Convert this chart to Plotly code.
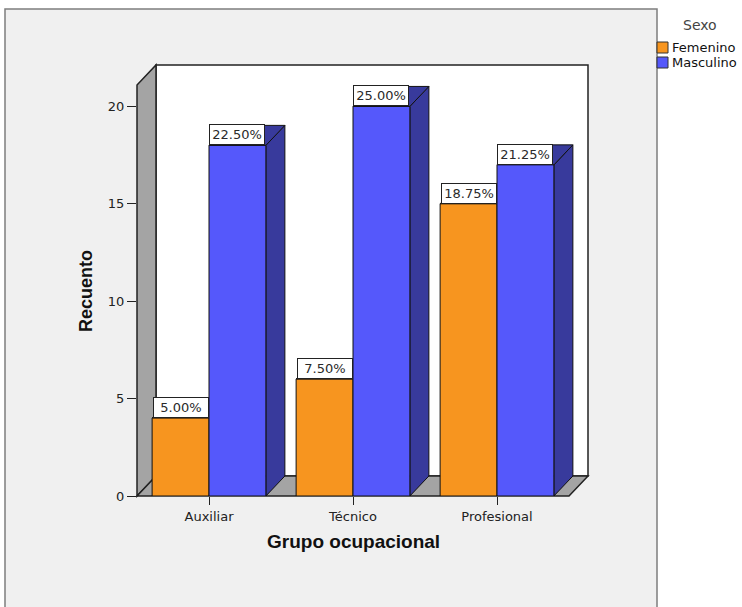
import plotly.graph_objects as go

# ---- data -------------------------------------------------------------
groups = ["Auxiliar", "Técnico", "Profesional"]
femenino = [4, 6, 15]
masculino = [18, 20, 17]
series_names = ["Femenino", "Masculino"]
y_ticks = [0, 5, 10, 15, 20]

total = sum(femenino) + sum(masculino)

# ---- geometry ---------------------------------------------------------
W, H = 742, 607
ML, MR, MT, MB = 137, 154, 65, 111
PW, PH = W - ML - MR, H - MT - MB

DEPTH_PX_X, DEPTH_PX_Y = 19, 20          # 3D depth offset in pixels
X_MIN, X_FRONT_MAX = -0.5, 2.5
Y_TOP = 21.1                             # top of the front plane
ppx = (PW - DEPTH_PX_X) / (X_FRONT_MAX - X_MIN)
ppy = (PH - DEPTH_PX_Y) / Y_TOP
DX = DEPTH_PX_X / ppx
DY = DEPTH_PX_Y / ppy
X_MAX = X_FRONT_MAX + DX
Y_MAX = Y_TOP + DY

BAR_W = 0.395

C_FEM = "#F7951F"
C_MAS = "#5558FB"
C_FEM_DARK = "#A5600F"
C_MAS_DARK = "#383A9C"
C_WALL = "#A4A4A4"
C_PANEL = "#F0F0F0"
FONT = "DejaVu Sans"


def xp(x):
    return (x - X_MIN) / (X_MAX - X_MIN)


def yp(y):
    return y / Y_MAX


def pxx(px):
    return (px - ML) / PW


def pxy(py):
    return (H - MB - py) / PH


xs = list(range(len(groups)))

fig = go.Figure()
fig.add_trace(go.Bar(
    x=xs, y=femenino, width=BAR_W, offset=-BAR_W, name=series_names[0],
    marker=dict(color=C_FEM, line=dict(color="#111", width=1)),
    showlegend=False, hoverinfo="skip"))
fig.add_trace(go.Bar(
    x=xs, y=masculino, width=BAR_W, offset=0, name=series_names[1],
    marker=dict(color=C_MAS, line=dict(color="#111", width=1)),
    showlegend=False, hoverinfo="skip"))

shapes = []

# outer panel
shapes.append(dict(type="rect", xref="paper", yref="paper", layer="below",
                   x0=pxx(5), x1=pxx(657), y0=pxy(620), y1=pxy(9),
                   fillcolor=C_PANEL, line=dict(color="#7d7d7d", width=1.5)))

# back wall
shapes.append(dict(type="rect", xref="paper", yref="paper", layer="below",
                   x0=xp(X_MIN + DX), x1=xp(X_MAX), y0=yp(DY), y1=yp(Y_MAX),
                   fillcolor="white", line=dict(color="#222", width=1.5)))


def ppath(pts):
    return "M " + " L ".join(f"{a},{b}" for a, b in pts) + " Z"


# left wall
shapes.append(dict(type="path", xref="paper", yref="paper", layer="below",
                   path=ppath([(xp(X_MIN), yp(0)), (xp(X_MIN), yp(Y_TOP)),
                               (xp(X_MIN + DX), yp(Y_MAX)), (xp(X_MIN + DX), yp(DY))]),
                   fillcolor=C_WALL, line=dict(color="#222", width=1.5)))
# floor
shapes.append(dict(type="path", xref="paper", yref="paper", layer="below",
                   path=ppath([(xp(X_MIN), yp(0)), (xp(X_MIN + DX), yp(DY)),
                               (xp(X_MAX), yp(DY)), (xp(X_FRONT_MAX), yp(0))]),
                   fillcolor=C_WALL, line=dict(color="#222", width=1.5)))

# side and top faces of each bar
for vals, off, dark in ((femenino, -BAR_W, C_FEM_DARK), (masculino, 0, C_MAS_DARK)):
    for x, h in zip(xs, vals):
        x0 = x + off
        x1 = x0 + BAR_W
        shapes.append(dict(type="path", xref="x", yref="y", layer="below",
                           path=ppath([(x1, 0), (x1 + DX, DY), (x1 + DX, h + DY), (x1, h)]),
                           fillcolor=dark, line=dict(color="#111", width=1)))
        shapes.append(dict(type="path", xref="x", yref="y", layer="below",
                           path=ppath([(x0, h), (x0 + DX, h + DY), (x1 + DX, h + DY), (x1, h)]),
                           fillcolor=dark, line=dict(color="#111", width=1)))

annotations = []
# percentage labels on top of the bars
for vals, off in ((femenino, -BAR_W / 2), (masculino, BAR_W / 2)):
    for x, h in zip(xs, vals):
        annotations.append(dict(
            x=x + off, y=h, xref="x", yref="y", xanchor="center", yanchor="bottom",
            text=f"{h / total * 100:.2f}%", showarrow=False,
            bgcolor="white", bordercolor="#222", borderwidth=1, borderpad=0,
            width=54, height=19, font=dict(family=FONT, size=13, color="#2a2a2a")))

# axis titles
annotations.append(dict(x=pxx(86), y=pxy(291), xref="paper", yref="paper",
                        xanchor="center", yanchor="middle",
                        text="<b>Recuento</b>", textangle=-90, showarrow=False,
                        font=dict(family="Liberation Sans", size=18, color="#111")))
annotations.append(dict(x=pxx(353), y=pxy(541), xref="paper", yref="paper",
                        xanchor="center", yanchor="middle",
                        text="<b>Grupo ocupacional</b>", showarrow=False,
                        font=dict(family="Liberation Sans", size=19, color="#111")))

# legend
annotations.append(dict(x=pxx(700), y=pxy(25), xref="paper", yref="paper",
                        xanchor="center", yanchor="middle",
                        text="Sexo", showarrow=False,
                        font=dict(family=FONT, size=14, color="#444")))
for i, (name, col) in enumerate(zip(series_names, [C_FEM, C_MAS])):
    top = 42 + i * 15
    shapes.append(dict(type="rect", xref="paper", yref="paper",
                       x0=pxx(657), x1=pxx(668), y0=pxy(top + 11), y1=pxy(top),
                       fillcolor=col, line=dict(color="#333", width=1)))
    annotations.append(dict(x=pxx(670), y=pxy(top + 5.5), xref="paper", yref="paper",
                            xanchor="left", yanchor="middle", text=name, showarrow=False,
                            font=dict(family=FONT, size=13, color="#111")))

fig.update_layout(
    width=W, height=H,
    margin=dict(l=ML, r=MR, t=MT, b=MB, pad=0),
    paper_bgcolor="white", plot_bgcolor="rgba(0,0,0,0)",
    shapes=shapes, annotations=annotations,
    showlegend=False,
    xaxis=dict(range=[X_MIN, X_MAX], tickvals=xs, ticktext=groups,
               ticks="outside", ticklen=8, tickcolor="#222", tickwidth=1,
               showline=False, showgrid=False, zeroline=False, fixedrange=True,
               tickfont=dict(family=FONT, size=13, color="#222")),
    yaxis=dict(range=[0, Y_MAX], tickvals=y_ticks,
               ticks="outside", ticklen=9, tickcolor="#222", tickwidth=1,
               showline=False, showgrid=False, zeroline=False, fixedrange=True,
               tickfont=dict(family=FONT, size=13, color="#222")),
)

fig.write_html("out.html")
